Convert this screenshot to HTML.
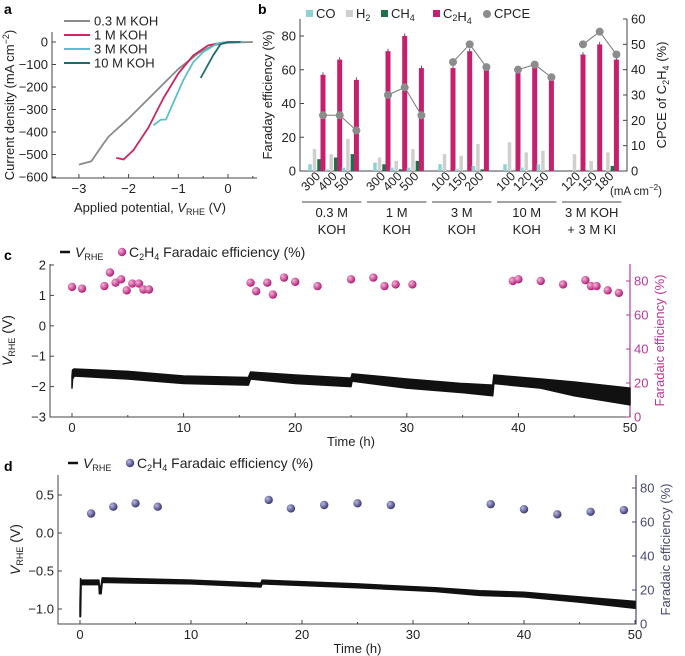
<!DOCTYPE html>
<html><head><meta charset="utf-8"><style>
body{margin:0;background:#fff}
svg{display:block;font-family:"Liberation Sans",sans-serif}
</style></head><body>
<svg id="s" width="685" height="656" viewBox="0 0 685 656"></svg>
<script>
// ---------- Panel a data ----------
const aSeriesNames=["0.3 M KOH","1 M KOH","3 M KOH","10 M KOH"];
const aV03=[-3.0,-2.75,-2.5,-2.4,-2.3,-2.0,-1.5,-1.0,-0.6,-0.3,0,0.5];
const aJ03=[-545,-530,-450,-420,-400,-340,-230,-120,-50,-15,-3,0];
const aV1=[-2.25,-2.1,-1.9,-1.6,-1.3,-1.0,-0.7,-0.4,-0.1,0.3];
const aJ1=[-515,-522,-480,-380,-250,-140,-60,-15,-2,0];
const aV3=[-1.5,-1.35,-1.25,-1.1,-0.9,-0.7,-0.5,-0.2,0,0.3];
const aJ3=[-370,-345,-345,-270,-170,-90,-45,-5,0,0];
const aV10=[-0.55,-0.45,-0.3,-0.15,0,0.25];
const aJ10=[-160,-120,-60,-10,0,0];
const aXTicks=[-3,-2,-1,0];
const aYTicks=[0,-100,-200,-300,-400,-500,-600];
// ---------- Panel b data ----------
const bGroups=[["0.3 M","KOH"],["1 M","KOH"],["3 M","KOH"],["10 M","KOH"],["3 M KOH","+ 3 M KI"]];
const bCats=["300","400","500","300","400","500","100","150","200","100","120","150","120","150","180"];
const bCO=[4,1,2,5,2,2,4,1,3,4,2,4,0,0,0];
const bH2=[13,10,19,8,6,13,10,9,16,17,11,12,10,6,11];
const bCH4=[7,8,10,4,1,6,0,0,1,0,0,0,0,0,3];
const bC2H4=[57,66,54,71,80,61,61,71,62,58,62,56,69,75,66];
const bCPCE=[22,22,16,30,33,22,43,50,41,40,42,37,50,55,46];
const bYTicks=[0,20,40,60,80];
const bRTicks=[0,10,20,30,40,50,60];
// ---------- Panel c data ----------
const cT=[0,0.05,0.2,5,10,15.8,16,20,25,25.1,30,35,37.7,37.8,42,45,50];
const cVtop=[-1.65,-1.45,-1.42,-1.5,-1.65,-1.7,-1.52,-1.62,-1.72,-1.58,-1.75,-1.9,-1.95,-1.62,-1.75,-1.85,-2.05];
const cVbot=[-2.05,-1.75,-1.65,-1.75,-1.9,-1.95,-1.75,-1.9,-2.0,-1.82,-2.05,-2.2,-2.3,-1.9,-2.05,-2.3,-2.6];
const cFEt=[0,0.9,2.9,3.4,3.9,4.4,4.9,5.4,6,6.4,6.9,16,16.5,17.5,18,19,20,22,25,27,28,29,30.5,39.5,40,42,44,46,46.5,47,48,49];
const cFE=[76.5,75.5,77,85,79,81,74.5,78.5,78.5,75,75,79,74,79,72,82,79.5,77,81,82,77,78,78,80,81,80,78,80.5,77,77,74.5,73];
const cXTicks=[0,10,20,30,40,50];
const cYTicks=[2,1,0,-1,-2,-3];
const cRTicks=[0,20,40,60,80];
// ---------- Panel d data ----------
const dT=[0,0.05,0.1,1.7,1.75,1.9,2,10,16.3,16.4,25,32,36,40,45,50];
const dVtop=[-0.95,-0.6,-0.62,-0.62,-0.7,-0.7,-0.59,-0.62,-0.66,-0.62,-0.67,-0.72,-0.76,-0.78,-0.84,-0.9];
const dVbot=[-1.1,-1.1,-0.68,-0.68,-0.8,-0.8,-0.65,-0.67,-0.71,-0.67,-0.72,-0.77,-0.82,-0.84,-0.91,-0.99];
const dFEt=[1,3,5,7,17,19,22,25,28,37,40,43,46,49];
const dFE=[65,69,71,69,73,68,70,71,70,70.5,67.5,64.5,66,67];
const dXTicks=[0,10,20,30,40,50];
const dYTicks=[0.5,0.0,-0.5,-1.0];
const dRTicks=[0,20,40,60,80];

const S=document.getElementById('s');
const NS="http://www.w3.org/2000/svg";
function mk(tag,at,parent){const e=document.createElementNS(NS,tag);for(const k in at)e.setAttribute(k,at[k]);(parent||S).appendChild(e);return e;}
function tx(x,y,str,size,anchor,fill,parent){const t=mk('text',{x:x,y:y,'font-size':size,'text-anchor':anchor||'start',fill:fill||'#222'},parent);t.textContent=str;return t;}
function lin(d0,d1,r0,r1){return v=>r0+(v-d0)*(r1-r0)/(d1-d0);}
function ln(x1,y1,x2,y2,c,w,p){return mk('line',{x1:x1,y1:y1,x2:x2,y2:y2,stroke:c||'#333','stroke-width':w||1},p);}

// ================= Panel a =================
{
const g=mk('g',{});


const X=lin(0,1,228,228+49.7), Y=lin(0,-600,42,177);
tx(4,14,'a',14,'start','#000',g).setAttribute('font-weight','bold');
const ax=mk('path',{d:`M52,32 V178 H257`,fill:'none',stroke:'#444','stroke-width':1},g);

aXTicks.forEach(v=>{ln(X(v),178,X(v),174,'#444',1,g);const t=tx(X(v),193,(v<0?'\u2212':'')+Math.abs(v),13,'middle','#222',g);
});
[-2.5,-1.5,-0.5,0.5].forEach(v=>ln(X(v),178,X(v),176,'#444',1,g));
aYTicks.forEach(v=>{ln(52,Y(v),56,Y(v),'#444',1,g);const t=tx(48,Y(v)+4.5,(v<0?'\u2212':'')+Math.abs(v),13,'end','#222',g);
});
const xl=tx(150,212,'',13,'middle','#222',g);xl.innerHTML='Applied potential, <tspan font-style="italic">V</tspan><tspan font-size="9" dy="3">RHE</tspan><tspan dy="-3"> (V)</tspan>';

const yl=tx(0,0,'',13,'middle','#222',g);yl.setAttribute('transform','translate(14,105) rotate(-90)');
yl.innerHTML='Current density (mA cm<tspan font-size="9" dy="-5">\u22122</tspan><tspan dy="5">)</tspan>';

const cols=['#8a8a8a','#c8285f','#5bbfcf','#1f6b6b'];
const Vs=[aV03,aV1,aV3,aV10],Js=[aJ03,aJ1,aJ3,aJ10];
Vs.forEach((vv,i)=>{const p=mk('polyline',{points:vv.map((v,k)=>X(v)+','+Y(Js[i][k])).join(' '),fill:'none',stroke:cols[i],'stroke-width':1.8,'stroke-linejoin':'round'},g);

const ly=21+i*14;ln(64,ly,90,ly,cols[i],2,g);const t=tx(94,ly+4.5,aSeriesNames[i],13,'start','#222',g);
});
}

// ================= Panel b =================
{
const g=mk('g',{});


const Y=lin(0,80,171,36), YR=lin(0,60,171,19);
const cx=i=>323+Math.floor(i/3)*65+(i%3)*16.7;
const t0=tx(258,14,'b',14,'start','#000',g);t0.setAttribute('font-weight','bold');
const ax=mk('path',{d:'M300,19 V171 H627 V19',fill:'none',stroke:'#444','stroke-width':1},g);

bYTicks.forEach(v=>{ln(300,Y(v),304,Y(v),'#444',1,g);const t=tx(296,Y(v)+4.5,v,13,'end','#222',g);
});
bRTicks.forEach(v=>{ln(627,YR(v),623,YR(v),'#444',1,g);const t=tx(631,YR(v)+4.5,v,13,'start','#222',g);
});
const yl=tx(0,0,'Faraday efficiency (%)',13,'middle','#222',g);yl.setAttribute('transform','translate(272,95) rotate(-90)');

const yr=tx(0,0,'',13,'middle','#222',g);yr.setAttribute('transform','translate(666,95) rotate(-90)');
yr.innerHTML='CPCE of C<tspan font-size="9" dy="3">2</tspan><tspan dy="-3">H</tspan><tspan font-size="9" dy="3">4</tspan><tspan dy="-3"> (%)</tspan>';

const specs=[[bCO,'#8ed3d3',-13,3.5],[bH2,'#cfcfcf',-8.5,3.5],[bCH4,'#1e7048',-4,3.5],[bC2H4,'#c71f6e',0,5]];
bCats.forEach((c,i)=>{
 specs.forEach((sp,k)=>{const v=sp[0][i];const x=cx(i)+sp[2];
  const r=mk('rect',{x:x-sp[3]/2,y:Y(v),width:sp[3],height:Math.max(0,171-Y(v)),fill:sp[1]},g);
  
  if(k===3){ln(x,Y(v)-2.5,x,Y(v),'#333',0.8,g);}
 });
 const t=tx(0,0,c,12.5,'end','#222',g);t.setAttribute('transform',`translate(${cx(i)-2},177) rotate(-45)`);
 
});
let pts=[];bCPCE.forEach((v,i)=>{pts.push(cx(i)+','+YR(v));});
for(let gi=0;gi<5;gi++){const p=mk('polyline',{points:pts.slice(gi*3,gi*3+3).join(' '),fill:'none',stroke:'#777','stroke-width':1},g);
}
bCPCE.forEach((v,i)=>{const c=mk('circle',{cx:cx(i),cy:YR(v),r:4,fill:'#8c8c8c'},g);
});
tx(610,195,'',11.5,'start','#222',g).innerHTML='(mA cm<tspan font-size="8" dy="-5">\u22122</tspan><tspan dy="5">)</tspan>';
bGroups.forEach((gr,gi)=>{const x0=cx(gi*3)-21,x1=cx(gi*3+2)+5;ln(x0,202,x1,202,'#444',1,g);const m=(x0+x1)/2;
 const a=tx(m,217,gr[0],13,'middle','#222',g);tx(m,234,gr[1],13,'middle','#222',g);
 });
const leg=[['CO','#8ed3d3'],['H2','#cfcfcf'],['CH4','#1e7048'],['C2H4','#c71f6e']];
const lx=[306,346,381,433];
leg.forEach((l,i)=>{const r=mk('rect',{x:lx[i],y:10,width:7,height:7,fill:l[1]},g);
 
 const t=tx(lx[i]+10,18,'',13,'start','#222',g);
 t.innerHTML=l[0].replace(/(\d)/g,'<tspan font-size="9" dy="3">$1</tspan><tspan dy="-3"></tspan>');
 });
mk('circle',{cx:487,cy:14,r:4,fill:'#8c8c8c'},g);tx(494,18,'CPCE',13,'start','#222',g);
}

// ================= time series panels =================
function tsPanel(o){
 const g=mk('g',{});
 
 
 const X=lin(0,50,o.x0,o.x50),Y=lin(o.v0,o.v1,o.y0,o.y1),YR=lin(0,80,o.bottom,o.r80);
 const t=tx(4,o.top-4,o.letter,14,'start','#000',g);t.setAttribute('font-weight','bold');
 const ax=mk('path',{d:`M${o.ax},${o.top} V${o.bottom} H${o.ra} V${o.top}`,fill:'none',stroke:'#444','stroke-width':1},g);
 
 mk('line',{x1:o.ra,y1:o.top,x2:o.ra,y2:o.bottom,stroke:o.rc,'stroke-width':1.2},g);
 o.xt.forEach(v=>{ln(X(v),o.bottom,X(v),o.bottom-4,'#444',1,g);ln(X(v+5),o.bottom,X(v+5),o.bottom-2,'#444',1,g);
  const l=tx(X(v),o.bottom+15,v,13,'middle','#222',g);});
 o.yt.forEach(v=>{ln(o.ax,Y(v),o.ax+4,Y(v),'#444',1,g);
  const l=tx(o.ax-4,Y(v)+4.5,(v<0?'\u2212':'')+Math.abs(v).toFixed(o.dec),13,'end','#222',g);});
 o.rt.forEach(v=>{ln(o.ra,YR(v),o.ra-4,YR(v),o.rc,1,g);
  const l=tx(o.ra+4,YR(v)+4.5,v,13,'start',o.rc,g);});
 const xl=tx((o.x0+o.x50)/2,o.bottom+29,'Time (h)',13,'middle','#222',g);
 const yl=tx(0,0,'',14,'middle','#222',g);yl.setAttribute('transform',`translate(${o.ax-38},${(o.top+o.bottom)/2}) rotate(-90)`);
 yl.innerHTML='<tspan font-style="italic">V</tspan><tspan font-size="9" dy="3">RHE</tspan><tspan dy="-3"> (V)</tspan>';
 
 const yr=tx(0,0,'Faradaic efficiency (%)',13,'middle',o.rc,g);yr.setAttribute('transform',`translate(${o.ra+34},${(o.top+o.bottom)/2}) rotate(-90)`);
 
 const poly=o.T.map((tt,i)=>X(tt)+','+Y(o.top_[i])).concat(o.T.map((tt,i)=>X(tt)+','+Y(o.bot[i])).reverse()).join(' ');
 const band=mk('polygon',{points:poly,fill:'#111',stroke:'#111','stroke-width':1.5,'stroke-linejoin':'round'},g);
 
 o.FEt.forEach((tt,i)=>{const c=mk('circle',{cx:X(tt),cy:YR(o.FE[i]),r:4.2,fill:`url(#${o.grad})`},g);
  });
 const ly=o.top-12;ln(o.ax+10,ly,o.ax+20,ly,'#111',2.5,g);
 const l1=tx(o.ax+25,ly+5,'',14,'start','#222',g);l1.innerHTML='<tspan font-style="italic">V</tspan><tspan font-size="9" dy="3">RHE</tspan>';
 
 mk('circle',{cx:o.ax+o.lg,cy:ly,r:4.2,fill:`url(#${o.grad})`},g);
 const l2=tx(o.ax+o.lg+7,ly+5,'',14,'start','#222',g);
 l2.innerHTML='C<tspan font-size="9" dy="3">2</tspan><tspan dy="-3">H</tspan><tspan font-size="9" dy="3">4</tspan><tspan dy="-3"> Faradaic efficiency (%)</tspan>';
 
}
const defs=mk('defs',{});
const g1=mk('radialGradient',{id:'gm',cx:'35%',cy:'35%',r:'65%'},defs);mk('stop',{offset:'0','stop-color':'#f6b3d6'},g1);mk('stop',{offset:'1','stop-color':'#b01e78'},g1);
const g2=mk('radialGradient',{id:'gb',cx:'35%',cy:'35%',r:'65%'},defs);mk('stop',{offset:'0','stop-color':'#b9b9e0'},g2);mk('stop',{offset:'1','stop-color':'#3a3a78'},g2);

tsPanel({id:'panel-c',letter:'c',top:264,bottom:417,ax:50,ra:630,x0:72,x50:630,v0:2,v1:-3,y0:265,y1:417,r80:281,rc:'#b9389a',
 xt:cXTicks,yt:cYTicks,rt:cRTicks,dec:0,T:cT,top_:cVtop,bot:cVbot,FEt:cFEt,FE:cFE,grad:'gm',lg:72});
tsPanel({id:'panel-d',letter:'d',top:475,bottom:624,ax:58,ra:636,x0:80,x50:635,v0:0.5,v1:-1.0,y0:495,y1:609,r80:488,rc:'#4a4a70',
 xt:dXTicks,yt:dYTicks,rt:dRTicks,dec:1,T:dT,top_:dVtop,bot:dVbot,FEt:dFEt,FE:dFE,grad:'gb',lg:72});
</script>
</body></html>
